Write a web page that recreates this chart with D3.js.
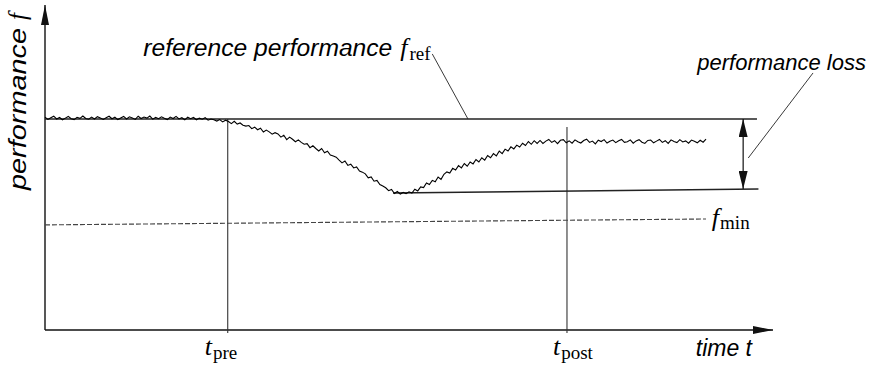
<!DOCTYPE html>
<html>
<head>
<meta charset="utf-8">
<script src="https://cdn.jsdelivr.net/npm/d3@7"></script>
<style>
  body { margin: 0; background: #fff; }
  .sans { font-family: "Liberation Sans", Arial, sans-serif; font-style: italic; }
  .serif { font-family: "Liberation Serif", "Times New Roman", serif; }
</style>
</head>
<body>
<div id="chart"></div>
<script>
// performance samples, one every tStep time units
var tStep = 0.4;
var perf = [
  100.9, 99.8, 100.6, 101.3, 100.0, 100.7, 99.6, 100.4, 101.2, 100.1,
  99.7, 100.8, 100.3, 101.4, 100.2, 99.9, 100.9, 100.0, 101.1, 100.5,
  99.8, 100.6, 101.3, 100.1, 100.8, 99.7, 100.5, 101.2, 100.0, 101.0,
  100.4, 99.8, 101.3, 100.2, 100.9, 100.4, 101.4, 99.9, 100.7, 100.1,
  101.0, 100.3, 99.7, 100.9, 100.2, 101.2, 100.0, 100.6, 99.6, 100.8,
  100.1, 100.7, 99.6, 100.4, 99.9, 100.6, 99.4, 100.0, 99.6, 99.0,
  99.7, 98.6, 99.4, 98.8, 97.8, 98.9, 97.6, 98.1, 97.0, 96.6,
  96.9, 95.4, 96.1, 94.9, 95.6, 93.8, 94.7, 93.9, 92.8, 93.5,
  92.9, 91.4, 92.3, 90.2, 91.4, 90.4, 89.2, 90.1, 88.9, 88.0,
  88.3, 86.4, 87.3, 86.0, 84.8, 86.0, 84.0, 84.7, 82.9, 82.4,
  81.9, 80.5, 79.2, 80.1, 78.0, 78.6, 76.8, 77.3, 75.3, 74.8,
  74.0, 72.1, 72.5, 70.5, 70.9, 68.9, 68.2, 67.4, 66.0, 66.6,
  64.7, 65.6, 64.4, 65.2, 64.6, 65.5, 64.9, 66.7, 65.9, 67.8,
  67.5, 69.7, 68.9, 70.9, 70.2, 72.5, 71.4, 73.8, 74.9, 74.4,
  76.6, 75.8, 77.9, 76.8, 78.9, 77.6, 79.6, 78.7, 80.8, 79.6,
  81.6, 80.5, 82.7, 81.6, 83.6, 82.5, 84.8, 83.6, 85.7, 84.8,
  86.8, 85.8, 87.6, 86.7, 88.5, 87.4, 89.3, 88.0, 89.7, 88.4,
  89.8, 88.4, 89.5, 90.3, 88.9, 89.7, 88.3, 89.9, 90.2, 88.7,
  89.6, 88.5, 90.1, 89.2, 88.6, 89.8, 90.4, 88.9, 89.5, 88.2,
  89.9, 89.3, 90.2, 88.6, 89.4, 90.0, 88.8, 89.7, 90.3, 88.9,
  89.2, 90.1, 88.5, 89.6, 90.2, 89.0, 88.4, 89.8, 90.0, 88.7,
  89.5, 90.3, 88.9, 89.7, 88.4, 90.1, 89.3, 88.8, 90.2, 89.1,
  89.6, 88.5, 90.0, 89.4, 88.7, 89.9, 89.0, 90.4
];

// reference lines and markers (time, performance)
var tMarks = [25.1, 71.7];
var tMarkLabels = ["pre", "post"];
var tMarkTop = [100, 96.2];
var tLabelShift = [-23, -14];
var refLine = [[0, 100], [97.8, 100]];
var lossLine = [[47.8, 64.9], [98, 66.8]];
var fMinLine = [[0, 49.8], [90.8, 52.6]];
var lossArrow = [[95.9, 100], [95.9, 66.8]];
var refLeader = [[53.2, 130.8], [58.1, 100]];
var lossLeader = [[105.5, 121.8], [96.6, 81.5]];

var width = 877, height = 366;

var x = d3.scaleLinear().domain([0, 100]).range([45, 773]),
    y = d3.scaleLinear().domain([0, 154]).range([330, 5]);

var line = d3.line()
    .x(function(d) { return x(d[0]); })
    .y(function(d) { return y(d[1]); });

var svg = d3.select("#chart").append("svg")
    .attr("width", width)
    .attr("height", height);

var defs = svg.append("defs");
defs.append("marker")
    .attr("id", "axisArrow")
    .attr("markerUnits", "userSpaceOnUse")
    .attr("viewBox", "0 0 20 8")
    .attr("refX", 20).attr("refY", 4)
    .attr("markerWidth", 20).attr("markerHeight", 8)
    .attr("orient", "auto")
  .append("path")
    .attr("d", "M0,0L20,4L0,8Z")
    .attr("fill", "#111");
defs.append("marker")
    .attr("id", "lossArrow")
    .attr("markerUnits", "userSpaceOnUse")
    .attr("viewBox", "0 0 18 9")
    .attr("refX", 18).attr("refY", 4.5)
    .attr("markerWidth", 18).attr("markerHeight", 9)
    .attr("orient", "auto-start-reverse")
  .append("path")
    .attr("d", "M0,0L18,4.5L0,9Z")
    .attr("fill", "#111");

// axes: bare lines with arrow heads
svg.append("path")
    .attr("d", line([[0, 0], [0, 154]]))
    .attr("stroke", "#111").attr("stroke-width", 1.4)
    .attr("marker-end", "url(#axisArrow)");
svg.append("path")
    .attr("d", line([[0, 0], [100, 0]]))
    .attr("stroke", "#111").attr("stroke-width", 1.4)
    .attr("marker-end", "url(#axisArrow)");

// t_pre / t_post verticals
svg.selectAll(".tmark")
    .data(tMarks)
  .enter().append("line")
    .attr("class", "tmark")
    .attr("x1", function(d) { return x(d); })
    .attr("x2", function(d) { return x(d); })
    .attr("y1", function(d, i) { return y(tMarkTop[i]); })
    .attr("y2", y(0) + 3)
    .attr("stroke", "#333").attr("stroke-width", 1.1);

svg.append("path").attr("d", line(refLine))
    .attr("stroke", "#222").attr("stroke-width", 1.4).attr("fill", "none");
svg.append("path").attr("d", line(lossLine))
    .attr("stroke", "#222").attr("stroke-width", 1.4).attr("fill", "none");
svg.append("path").attr("d", line(fMinLine))
    .attr("stroke", "#444").attr("stroke-width", 1.1)
    .attr("stroke-dasharray", "5,2").attr("fill", "none");

svg.append("path").attr("d", line(lossArrow))
    .attr("stroke", "#111").attr("stroke-width", 1.2)
    .attr("marker-start", "url(#lossArrow)")
    .attr("marker-end", "url(#lossArrow)");

svg.append("path").attr("d", line(refLeader))
    .attr("stroke", "#222").attr("stroke-width", 0.9);
svg.append("path").attr("d", line(lossLeader))
    .attr("stroke", "#222").attr("stroke-width", 0.9);

// the measured performance curve
svg.append("path")
    .datum(perf)
    .attr("fill", "none")
    .attr("stroke", "#000")
    .attr("stroke-width", 1.1)
    .attr("d", d3.line()
        .x(function(d, i) { return x(i * tStep); })
        .y(function(d) { return y(d); }));

// labels
var ylab = svg.append("text")
    .attr("transform", "translate(26,190) rotate(-90)");
ylab.append("tspan")
    .attr("class", "sans")
    .attr("font-size", 24)
    .attr("textLength", 162)
    .attr("lengthAdjust", "spacingAndGlyphs")
    .text("performance");
ylab.append("tspan")
    .attr("class", "serif")
    .attr("font-style", "italic")
    .attr("font-size", 25)
    .attr("dx", 8)
    .text("f");

svg.append("text")
    .attr("class", "sans")
    .attr("x", x(13.5)).attr("y", y(129.8))
    .attr("font-size", 23)
    .attr("textLength", 249)
    .attr("lengthAdjust", "spacingAndGlyphs")
    .text("reference performance");
var fref = svg.append("text")
    .attr("class", "serif")
    .attr("x", x(48.8)).attr("y", y(129.8))
    .attr("font-size", 26);
fref.append("tspan").attr("font-style", "italic").text("f");
fref.append("tspan").attr("font-size", 19).attr("dy", 4).attr("dx", 2).text("ref");

svg.append("text")
    .attr("class", "sans")
    .attr("x", 866).attr("y", y(123.2))
    .attr("text-anchor", "end")
    .attr("font-size", 22)
    .text("performance loss");

var fmin = svg.append("text")
    .attr("class", "serif")
    .attr("x", x(91.6)).attr("y", y(49.5))
    .attr("font-size", 26);
fmin.append("tspan").attr("font-style", "italic").text("f");
fmin.append("tspan").attr("font-size", 19).attr("dy", 3).attr("dx", 1).text("min");

svg.selectAll(".tlabel")
    .data(tMarks)
  .enter().append("text")
    .attr("class", "tlabel serif")
    .attr("x", function(d, i) { return x(d) + tLabelShift[i]; })
    .attr("y", 355)
    .attr("font-size", 26)
    .each(function(d, i) {
      var t = d3.select(this);
      t.append("tspan").attr("font-style", "italic").text("t");
      t.append("tspan").attr("font-size", 19).attr("dy", 4).attr("dx", 1).text(tMarkLabels[i]);
    });

svg.append("text")
    .attr("class", "sans")
    .attr("x", 752).attr("y", 356)
    .attr("text-anchor", "end")
    .attr("font-size", 23)
    .text("time t");
</script>
</body>
</html>
